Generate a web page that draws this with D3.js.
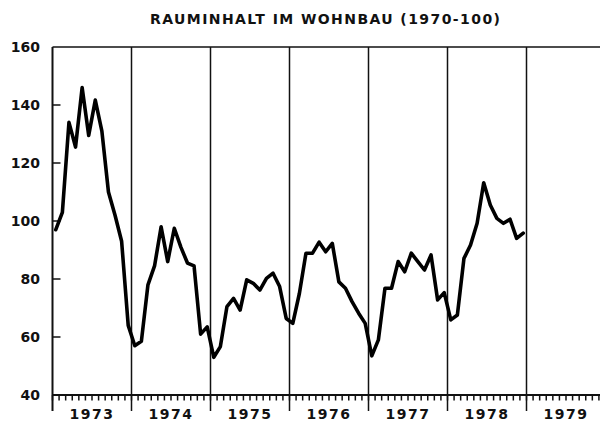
<!DOCTYPE html>
<html>
<head>
<meta charset="utf-8">
<script src="https://cdn.jsdelivr.net/npm/d3@7"></script>
<style>
  body { margin: 0; background: #fff; }
  svg { display: block; }
  text { font-family: "DejaVu Sans", sans-serif; fill: #111; }
</style>
</head>
<body>
<div id="chart"></div>
<script>
const title = "RAUMINHALT IM WOHNBAU (1970-100)";
const years = ["1973", "1974", "1975", "1976", "1977", "1978", "1979"];
const yTicks = [40, 60, 80, 100, 120, 140, 160];

// monthly index values, Jan 1973 - Dec 1978
const v1973 = [97, 103, 134, 125.5, 146, 129.5, 141.7, 131, 110, 102, 93, 64];
const v1974 = [57, 58.5, 78, 84.5, 98, 86, 97.5, 91, 85.5, 84.5, 61, 63.5];
const v1975 = [53, 56.7, 70.5, 73.3, 69.3, 79.7, 78.5, 76.2, 80.2, 82, 77.4, 66.4];
const v1976 = [64.7, 75, 88.9, 88.9, 92.7, 89.4, 92.3, 79, 76.8, 72.2, 68.2, 64.7];
const v1977 = [53.5, 59, 76.8, 76.8, 86, 82.5, 88.9, 86, 83.1, 88.3, 72.8, 75.3];
const v1978 = [65.9, 67.6, 87.1, 91.7, 99.2, 113.2, 105.5, 100.9, 99.2, 100.6, 94, 95.8];

const series = [].concat(v1973, v1974, v1975, v1976, v1977, v1978)
  .map((v, i) => ({ m: i + 0.5, v: v }));

const width = 600;
const height = 423;
const plotLeft = 52.5;
const yearW = 79;
const plotTop = 47;
const plotBottom = 395;

const svg = d3
  .select("#chart")
  .append("svg")
  .attr("width", width)
  .attr("height", height);

const x = d3.scaleLinear().domain([0, years.length * 12]).range([plotLeft, plotLeft + years.length * yearW]);
const y = d3.scaleLinear().domain([40, 160]).range([plotBottom, plotTop]);

// title
svg
  .append("text")
  .attr("x", 325)
  .attr("y", 24)
  .attr("text-anchor", "middle")
  .attr("textLength", 350)
  .attr("lengthAdjust", "spacing")
  .style("font-size", "14px")
  .style("font-weight", "bold")
  .text(title);

// top frame line
svg
  .append("line")
  .attr("x1", plotLeft)
  .attr("x2", width)
  .attr("y1", plotTop)
  .attr("y2", plotTop)
  .attr("stroke", "#111")
  .attr("stroke-width", 1.6);

// bottom axis line
svg
  .append("line")
  .attr("x1", plotLeft)
  .attr("x2", width)
  .attr("y1", plotBottom)
  .attr("y2", plotBottom)
  .attr("stroke", "#111")
  .attr("stroke-width", 1.8);

// monthly ticks hanging below the axis
svg
  .selectAll(".mtick")
  .data(d3.range(0, years.length * 12 + 1))
  .enter()
  .append("line")
  .attr("class", "mtick")
  .attr("x1", (d) => x(d))
  .attr("x2", (d) => x(d))
  .attr("y1", plotBottom)
  .attr("y2", plotBottom + 5.5)
  .attr("stroke", "#111")
  .attr("stroke-width", 1.5);

// year separators (incl. left axis)
svg
  .selectAll(".ysep")
  .data(d3.range(0, years.length + 1))
  .enter()
  .append("line")
  .attr("class", "ysep")
  .attr("x1", (d) => x(d * 12))
  .attr("x2", (d) => x(d * 12))
  .attr("y1", plotTop)
  .attr("y2", 411)
  .attr("stroke", "#111")
  .attr("stroke-width", (d) => (d === 0 ? 2 : 1.5));

// year labels
svg
  .selectAll(".ylab")
  .data(years)
  .enter()
  .append("text")
  .attr("class", "ylab")
  .attr("x", (d, i) => x(i * 12 + 6))
  .attr("y", 419)
  .attr("text-anchor", "middle")
  .style("font-size", "14px")
  .style("font-weight", "bold")
  .style("letter-spacing", "1.5px")
  .text((d) => d);

// y ticks inside the plot
svg
  .selectAll(".vtick")
  .data(yTicks.slice(1, -1))
  .enter()
  .append("line")
  .attr("class", "vtick")
  .attr("x1", plotLeft)
  .attr("x2", plotLeft + 8)
  .attr("y1", (d) => y(d))
  .attr("y2", (d) => y(d))
  .attr("stroke", "#111")
  .attr("stroke-width", 1.5);

// y labels
svg
  .selectAll(".vlab")
  .data(yTicks)
  .enter()
  .append("text")
  .attr("class", "vlab")
  .attr("x", 40)
  .attr("y", (d) => y(d))
  .attr("dy", "0.36em")
  .attr("text-anchor", "end")
  .style("font-size", "14px")
  .style("font-weight", "bold")
  .text((d) => d);

// data line
const line = d3
  .line()
  .x((d) => x(d.m))
  .y((d) => y(d.v));

svg
  .append("path")
  .datum(series)
  .attr("d", line)
  .attr("fill", "none")
  .attr("stroke", "#000")
  .attr("stroke-width", 3.6)
  .attr("stroke-linejoin", "round")
  .attr("stroke-linecap", "round");
</script>
</body>
</html>
